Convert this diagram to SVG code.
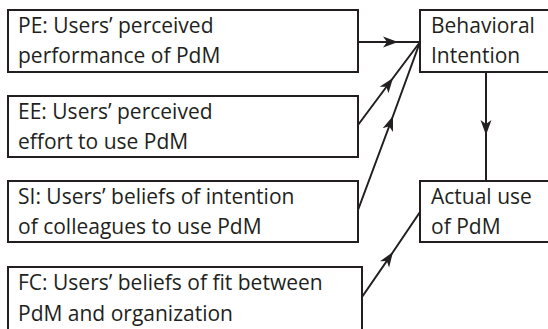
<svg xmlns="http://www.w3.org/2000/svg" width="548" height="329" viewBox="0 0 548 329">
<style>
  .box { fill: #ffffff; stroke: #231f20; stroke-width: 2; }
  .lbl { font-family: "Open Sans", "Liberation Sans", sans-serif; font-size: 21px; fill: #231f20; }
  .conn { fill: none; stroke: #231f20; stroke-width: 2; marker-mid: url(#ah); }
</style>
<defs>
  <marker id="ah" markerWidth="16" markerHeight="12" refX="15" refY="6" orient="auto" markerUnits="userSpaceOnUse" viewBox="0 0 16 12">
    <path d="M15,6 L0,0.5 L4,6 L0,11.5 Z" fill="#231f20"/>
  </marker>
</defs>
<rect width="548" height="329" fill="#ffffff"/>
<g id="connectors">
  <path class="conn" d="M358,42 L398,42 L420,42"/>
  <path class="conn" d="M358,125 L393,78 L420,42"/>
  <path class="conn" d="M358,210 L393,116 L420,42"/>
  <path class="conn" d="M362,297 L393,252 L420,212"/>
  <path class="conn" d="M486,72 L486,135 L486,181"/>
</g>
<g id="PE">
  <rect class="box" x="8" y="10" width="350" height="62"/>
  <text class="lbl" x="18" y="33">PE: Users’ perceived</text>
  <text class="lbl" x="18" y="63">performance of PdM</text>
</g>
<g id="EE">
  <rect class="box" x="8" y="96" width="350" height="61"/>
  <text class="lbl" x="18" y="119">EE: Users’ perceived</text>
  <text class="lbl" x="18" y="149">effort to use PdM</text>
</g>
<g id="SI">
  <rect class="box" x="8" y="181" width="350" height="61"/>
  <text class="lbl" x="18" y="204">SI: Users’ beliefs of intention</text>
  <text class="lbl" x="18" y="234">of colleagues to use PdM</text>
</g>
<g id="FC">
  <rect class="box" x="8" y="267" width="354" height="80"/>
  <text class="lbl" x="18" y="290">FC: Users’ beliefs of fit between</text>
  <text class="lbl" x="18" y="321">PdM and organization</text>
</g>
<g id="BI">
  <rect class="box" x="420" y="10" width="140" height="62"/>
  <text class="lbl" x="431" y="33">Behavioral</text>
  <text class="lbl" x="431" y="63">Intention</text>
</g>
<g id="AU">
  <rect class="box" x="420" y="181" width="140" height="61"/>
  <text class="lbl" x="431" y="204">Actual use</text>
  <text class="lbl" x="431" y="234">of PdM</text>
</g>
</svg>
